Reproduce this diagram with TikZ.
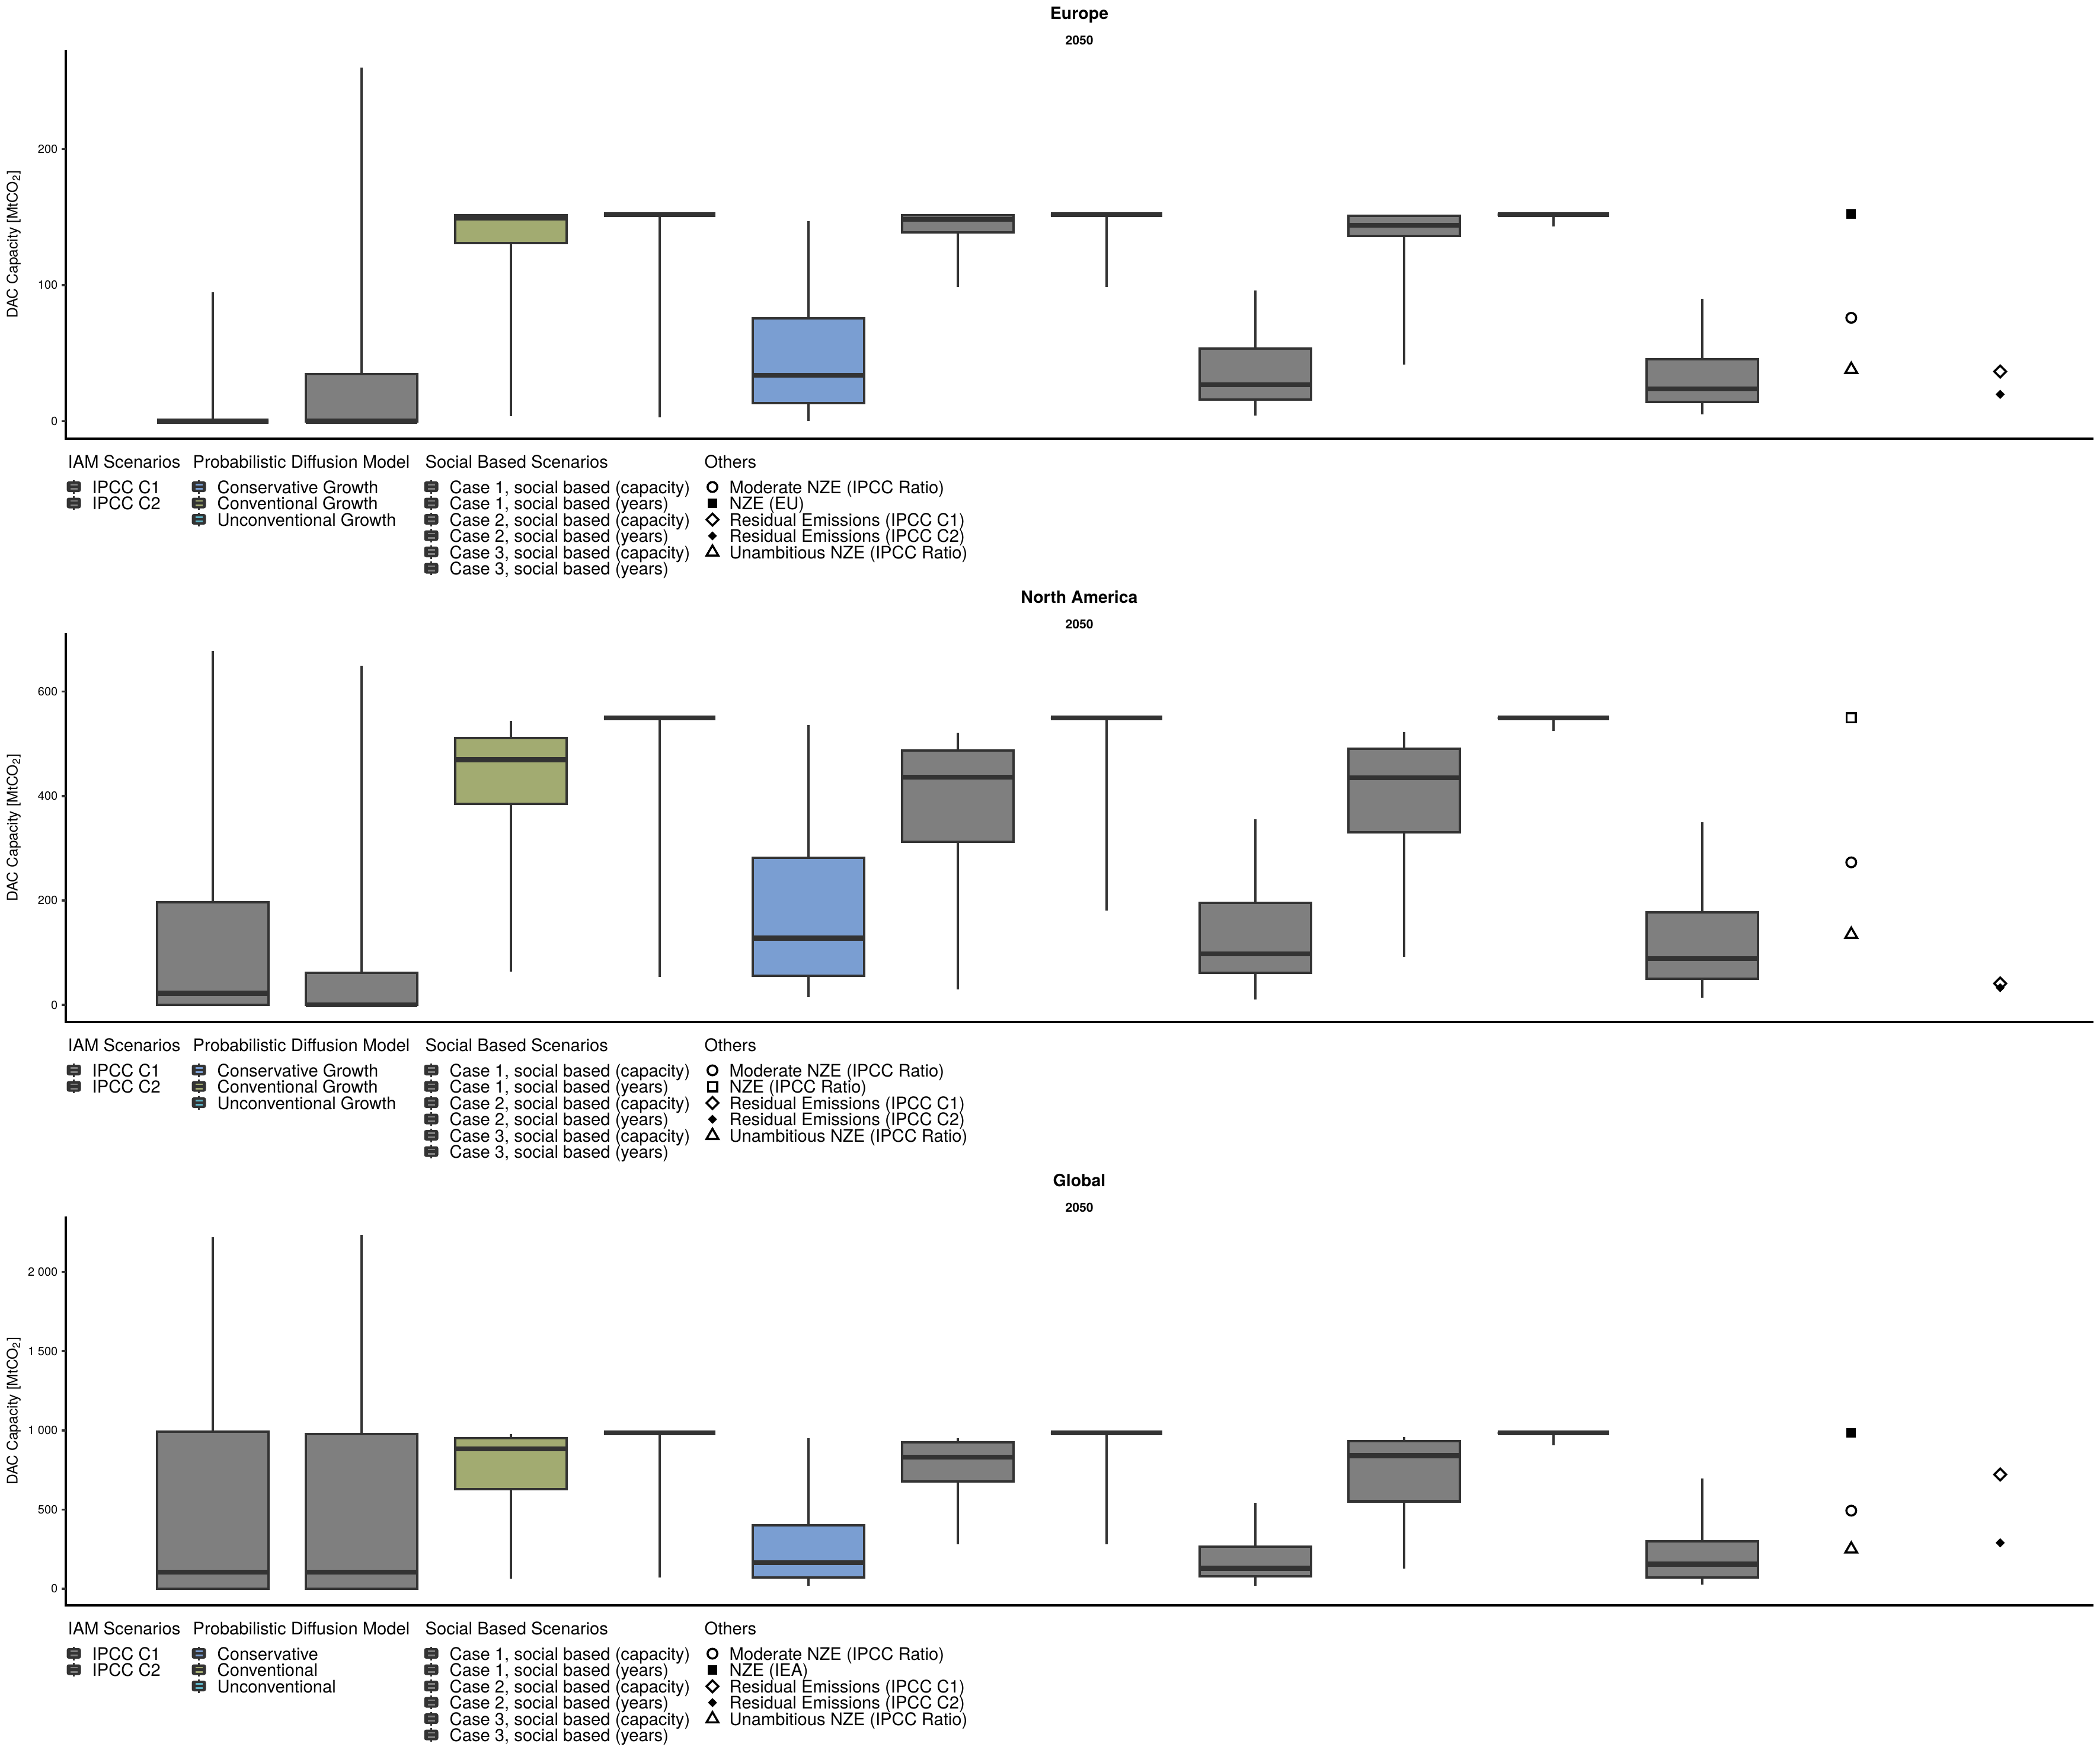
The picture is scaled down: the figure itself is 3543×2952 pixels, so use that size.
\documentclass[tikz,border=0pt]{standalone}
\usepackage{fontspec}
\setmainfont{TeX Gyre Heros}
\usetikzlibrary{shapes.geometric}

\definecolor{boxline}{HTML}{333333}
\definecolor{boxgrey}{HTML}{7F7F7F}
\definecolor{consblue}{HTML}{7A9ED2}
\definecolor{convgreen}{HTML}{A2AB71}
\definecolor{uncvcyan}{HTML}{5EB4C6}

% one box of a panel: category, min, q1, median, q3, max, fill
\newcommand{\dacbox}[7]{%
  \pgfmathsetmacro{\bx}{359+251.3*(#1-1)}%
  \draw[whisk] (\bx,#2) -- (\bx,#3);
  \draw[whisk] (\bx,#5) -- (\bx,#6);
  \filldraw[boxout, fill=#7] (\bx-94,#3) rectangle (\bx+94,#5);
  \draw[medline] (\bx-94,#4) -- (\bx+94,#4);
}

% box glyph of the legend: x, y, fill
\newcommand{\dackey}[3]{%
  \draw[boxline, line width=0.85pt] (#1,#2-11.5) -- (#1,#2+11.5);
  \fill[boxline, rounded corners=0.035cm] (#1-12,#2-9) rectangle (#1+12,#2+9);
  \fill[#3] (#1-6,#2-5) rectangle (#1+6,#2-2.3);
  \fill[#3] (#1-6,#2+2.3) rectangle (#1+6,#2+5);
}

\begin{document}
\begin{tikzpicture}[x=0.01cm, y=-0.01cm]
    \tikzstyle{axis} = [draw=black, line width=1.35pt]
    \tikzstyle{tickln} = [draw=boxline, line width=1pt]
    \tikzstyle{whisk} = [draw=boxline, line width=1.14pt]
    \tikzstyle{boxout} = [draw=boxline, line width=1.14pt]
    \tikzstyle{medline} = [draw=boxline, line width=2.36pt]
    \tikzstyle{ticklab} = [anchor=east, inner sep=0, font=\fontsize{5.7}{6}\selectfont]
    \tikzstyle{ttl} = [anchor=base, inner sep=0, font=\fontsize{8.1}{9}\selectfont\bfseries]
    \tikzstyle{subttl} = [anchor=base, inner sep=0, font=\fontsize{6}{7}\selectfont\bfseries]
    \tikzstyle{ylab} = [rotate=90, inner sep=0, font=\fontsize{7}{8}\selectfont]
    \tikzstyle{legtitle} = [anchor=base west, inner sep=0, font=\fontsize{8.3}{9}\selectfont]
    \tikzstyle{legtext} = [anchor=base west, inner sep=0, font=\fontsize{8.3}{9}\selectfont]
    \tikzstyle{mkcirc} = [circle, draw=black, line width=1pt, minimum size=0.165cm, inner sep=0]
    \tikzstyle{mksqf} = [rectangle, fill=black, minimum size=0.16cm, inner sep=0]
    \tikzstyle{mksqo} = [rectangle, draw=black, line width=1pt, minimum size=0.155cm, inner sep=0]
    \tikzstyle{mkdiao} = [diamond, draw=black, line width=1pt, minimum size=0.215cm, inner sep=0]
    \tikzstyle{mkdiaf} = [diamond, fill=black, minimum size=0.16cm, inner sep=0]
    \tikzstyle{mktri} = [regular polygon, regular polygon sides=3, draw=black, line width=1pt, minimum size=0.23cm, inner sep=0]

    \useasboundingbox (0,0) rectangle (3543,2952);

    % Frame, titles and legend of each region
    \foreach \pid/\off/\reg/\nze/\nzemk/\cons/\conv/\uncv in {EU/0/Europe/NZE (EU)/mksqf/Conservative Growth/Conventional Growth/Unconventional Growth,
        NA/984/North America/NZE (IPCC Ratio)/mksqo/Conservative Growth/Conventional Growth/Unconventional Growth,
        GL/1968/Global/NZE (IEA)/mksqf/Conservative/Conventional/Unconventional} {
      \begin{scope}[shift={(0,\off)}]
        \node[ttl] (\pid-title) at (1821,33) {\reg};
        \node[subttl] (\pid-year) at (1821,76) {2050};
        \node[ylab] (\pid-ylab) at (23,412) {DAC Capacity [MtCO\textsubscript{2}]};
        \draw[axis] (111,84) -- (111,740) -- (3532,740);

        % Legend
        \node[legtitle] (\pid-iam) at (114,789) {IAM Scenarios};
        \node[legtitle] (\pid-pdm) at (325,789) {Probabilistic Diffusion Model};
        \node[legtitle] (\pid-sbs) at (717,789) {Social Based Scenarios};
        \node[legtitle] (\pid-oth) at (1188,789) {Others};
        \foreach \lab [count=\i] in {IPCC C1, IPCC C2} {
          \pgfmathsetmacro{\ly}{832+27.5*(\i-1)}
          \dackey{124.5}{\ly-11}{boxgrey}
          \node[legtext] (\pid-iam\i) at (155,\ly) {\lab};
        }
        \foreach \lab/\col [count=\i] in {\cons/consblue, \conv/convgreen, \uncv/uncvcyan} {
          \pgfmathsetmacro{\ly}{832+27.5*(\i-1)}
          \dackey{335.5}{\ly-11}{\col}
          \node[legtext] (\pid-pdm\i) at (366,\ly) {\lab};
        }
        \foreach \lab [count=\i] in {{Case 1, social based (capacity)}, {Case 1, social based (years)},
            {Case 2, social based (capacity)}, {Case 2, social based (years)},
            {Case 3, social based (capacity)}, {Case 3, social based (years)}} {
          \pgfmathsetmacro{\ly}{832+27.5*(\i-1)}
          \dackey{727.5}{\ly-11}{boxgrey}
          \node[legtext] (\pid-sbs\i) at (758,\ly) {\lab};
        }
        \foreach \lab/\mk [count=\i] in {Moderate NZE (IPCC Ratio)/mkcirc, \nze/\nzemk,
            Residual Emissions (IPCC C1)/mkdiao, Residual Emissions (IPCC C2)/mkdiaf,
            Unambitious NZE (IPCC Ratio)/mktri} {
          \pgfmathsetmacro{\ly}{832+27.5*(\i-1)}
          \node[\mk] (\pid-mk\i) at (1202,\ly-10.5) {};
          \node[legtext] (\pid-oth\i) at (1230,\ly) {\lab};
        }
      \end{scope}
    }

    % Europe
    \begin{scope}[shift={(0cm,-7.101cm)}, y=0.02294cm]
      \foreach \t in {0,100,200} {
        \draw[tickln] (104,\t) -- (111,\t);
        \node[ticklab] (EU-t\t) at (98,\t) {\t};
      }
      \foreach \k/\lo/\qa/\md/\qb/\hi/\fc in {1/0/0/0/0/95/boxgrey, 2/0/0/0/34.5/260/boxgrey,
          3/3.5/131/149.3/151.5/151.5/convgreen, 4/3/151.9/151.9/151.9/151.9/uncvcyan,
          5/0.4/13.3/33.9/75.5/147/consblue, 6/98.5/139/148.5/151.5/151.5/boxgrey,
          7/98.5/151.9/151.9/151.9/151.9/boxgrey, 8/4.2/16/26.8/53.4/95.9/boxgrey,
          9/41.6/136/144/151/151/boxgrey, 10/143/151.9/151.9/151.9/151.9/boxgrey,
          11/5.2/14/23.9/45.5/89.9/boxgrey}
        \dacbox{\k}{\lo}{\qa}{\md}{\qb}{\hi}{\fc}
      \node[mksqf] (EU-nze) at (3123.3,152.2) {};
      \node[mkcirc] (EU-mod) at (3123.3,76) {};
      \node[mktri] (EU-una) at (3123.3,38) {};
      \node[mkdiao] (EU-rc1) at (3374.6,36.5) {};
      \node[mkdiaf] (EU-rc2) at (3374.6,19.7) {};
    \end{scope}

    % North America
    \begin{scope}[shift={(0cm,-16.942cm)}, y=0.008797cm]
      \foreach \t in {0,200,400,600} {
        \draw[tickln] (104,\t) -- (111,\t);
        \node[ticklab] (NA-t\t) at (98,\t) {\t};
      }
      \foreach \k/\lo/\qa/\md/\qb/\hi/\fc in {1/0/0/22.5/197/677.5/boxgrey, 2/0/0/0/61/649/boxgrey,
          3/63.6/384.7/469.5/510.6/544/convgreen, 4/53.4/550/550/550/550/uncvcyan,
          5/14.9/56/127.9/282/536.3/consblue, 6/30.3/312.8/436/487.4/520.9/boxgrey,
          7/181/550/550/550/550/boxgrey, 8/10/62/98/195.3/356/boxgrey,
          9/92/330/435/491/522/boxgrey, 10/525/550/550/550/550/boxgrey,
          11/14/50/89/177.5/350/boxgrey}
        \dacbox{\k}{\lo}{\qa}{\md}{\qb}{\hi}{\fc}
      \node[mksqo] (NA-nze) at (3123.3,550) {};
      \node[mkcirc] (NA-mod) at (3123.3,273) {};
      \node[mktri] (NA-una) at (3123.3,135) {};
      \node[mkdiao] (NA-rc1) at (3374.6,41) {};
      \node[mkdiaf] (NA-rc2) at (3374.6,33) {};
    \end{scope}

    % Global
    \begin{scope}[shift={(0cm,-26.784cm)}, y=0.002672cm]
      \foreach \t/\l in {0/0, 500/500, 1000/1 000, 1500/1 500, 2000/2 000} {
        \draw[tickln] (104,\t) -- (111,\t);
        \node[ticklab] (GL-t\t) at (98,\t) {\l};
      }
      \foreach \k/\lo/\qa/\md/\qb/\hi/\fc in {1/0/0/104/992/2218/boxgrey, 2/0/0/104/975/2233/boxgrey,
          3/62/629/882/950/975/convgreen, 4/70/984/984/984/984/uncvcyan,
          5/20/70/163.5/400/950/consblue, 6/282/679/831.6/925/950/boxgrey,
          7/282/984/984/984/984/boxgrey, 8/20/79/129.5/265/544/boxgrey,
          9/129/552/840/933/958/boxgrey, 10/907/984/984/984/984/boxgrey,
          11/25/70/155/299/696/boxgrey}
        \dacbox{\k}{\lo}{\qa}{\md}{\qb}{\hi}{\fc}
      \node[mksqf] (GL-nze) at (3123.3,984) {};
      \node[mkcirc] (GL-mod) at (3123.3,493) {};
      \node[mktri] (GL-una) at (3123.3,250) {};
      \node[mkdiao] (GL-rc1) at (3374.6,721.5) {};
      \node[mkdiaf] (GL-rc2) at (3374.6,290) {};
    \end{scope}
\end{tikzpicture}
\end{document}
